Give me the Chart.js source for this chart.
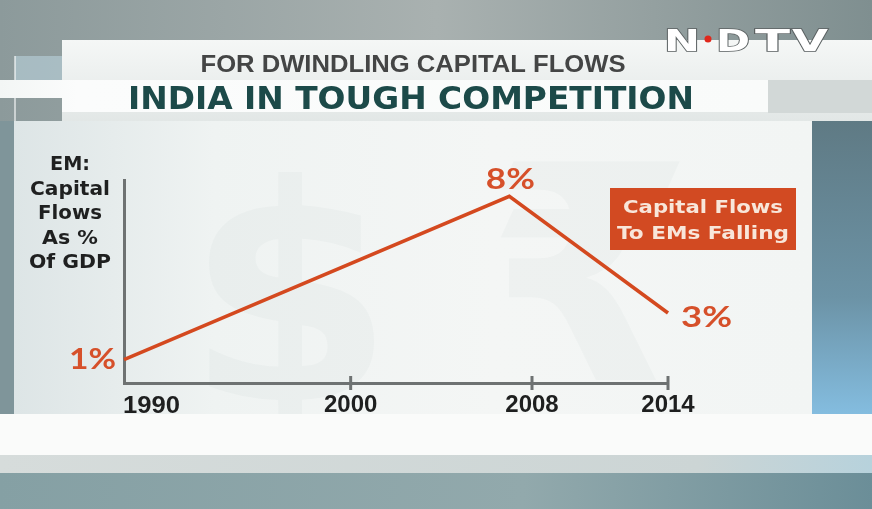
<!DOCTYPE html>
<html>
<head>
<meta charset="utf-8">
<script src="https://cdn.jsdelivr.net/npm/chart.js@4.4.1/dist/chart.umd.min.js"></script>
<style>
  html, body { margin: 0; padding: 0; background: #97a3a3; }
  #wrap { width: 872px; height: 509px; }
</style>
</head>
<body>
<div id="wrap"><canvas id="chart" width="872" height="509"></canvas></div>
<script>
// chart data
const years = [1990, 2007, 2014];
const flows = [1, 8, 3];
const yearTicks = [1990, 2000, 2008, 2014];
const pctLabels = ['1%', '8%', '3%'];

// texts
const yTitle = ['EM:', 'Capital', 'Flows', 'As %', 'Of GDP'];
const titleTop = 'FOR DWINDLING CAPITAL FLOWS';
const titleMain = 'INDIA IN TOUGH COMPETITION';
const noteLines = ['Capital Flows', 'To EMs Falling'];

const ORANGE = '#d4491f';
const LABEL_ORANGE = '#d6502a';
const AXIS = '#6e7272';

// draw text squeezed / stretched to a given width
function fitText(ctx, txt, x, y, w, align) {
  const m = ctx.measureText(txt).width;
  ctx.save();
  ctx.translate(x, y);
  ctx.scale(w / m, 1);
  ctx.textAlign = align || 'center';
  ctx.fillText(txt, 0, 0);
  ctx.restore();
}

// tv style background panels
const backdrop = {
  id: 'backdrop',
  beforeDraw(chart) {
    const ctx = chart.ctx;
    ctx.save();
    let g = ctx.createLinearGradient(0, 0, 872, 0);
    g.addColorStop(0, '#8c9a9b');
    g.addColorStop(0.5, '#a9b1b0');
    g.addColorStop(1, '#7f8f90');
    ctx.fillStyle = g;
    ctx.fillRect(0, 0, 872, 509);

    // small light box on the left
    ctx.fillStyle = 'rgba(190,215,225,0.55)';
    ctx.fillRect(15, 56, 47, 24);
    ctx.fillStyle = 'rgba(255,255,255,0.55)';
    ctx.fillRect(14, 56, 2, 66);

    // title panel
    g = ctx.createLinearGradient(0, 40, 0, 121);
    g.addColorStop(0, '#f5f7f6');
    g.addColorStop(1, '#e2e7e6');
    ctx.fillStyle = g;
    ctx.fillRect(62, 40, 810, 81);

    // bright band behind the main title
    g = ctx.createLinearGradient(0, 0, 768, 0);
    g.addColorStop(0, '#f3f6f5');
    g.addColorStop(0.1, '#fbfcfc');
    g.addColorStop(1, '#f9fbfa');
    ctx.fillStyle = g;
    ctx.fillRect(0, 80, 768, 18);
    ctx.fillRect(62, 80, 706, 32);
    ctx.fillStyle = '#d2d8d7';
    ctx.fillRect(768, 80, 104, 33);

    // chart panel
    g = ctx.createLinearGradient(14, 0, 812, 0);
    g.addColorStop(0, '#dde5e6');
    g.addColorStop(0.25, '#eff3f2');
    g.addColorStop(0.6, '#f4f6f5');
    g.addColorStop(1, '#f2f5f4');
    ctx.fillStyle = g;
    ctx.fillRect(14, 121, 798, 294);

    // faint currency watermark
    ctx.fillStyle = 'rgba(90,100,100,0.035)';
    ctx.font = 'bold 300px "DejaVu Sans"';
    ctx.textAlign = 'center';
    ctx.fillText('$', 290, 400);
    ctx.fillText('\u20B9', 590, 380);

    // left strip
    ctx.fillStyle = '#7f959a';
    ctx.fillRect(0, 121, 14, 294);

    // right strip
    g = ctx.createLinearGradient(0, 121, 0, 415);
    g.addColorStop(0, '#5f7a84');
    g.addColorStop(0.6, '#6c93a6');
    g.addColorStop(1, '#84bde0');
    ctx.fillStyle = g;
    ctx.fillRect(812, 121, 60, 294);

    // bottom bands
    ctx.fillStyle = '#fafbfa';
    ctx.fillRect(0, 414, 872, 41);
    g = ctx.createLinearGradient(0, 0, 872, 0);
    g.addColorStop(0, '#d6dcdb');
    g.addColorStop(0.8, '#ccd5d5');
    g.addColorStop(1, '#b7d2dc');
    ctx.fillStyle = g;
    ctx.fillRect(0, 455, 872, 18);
    g = ctx.createLinearGradient(0, 473, 872, 509);
    g.addColorStop(0, '#85a0a4');
    g.addColorStop(0.6, '#92a9ac');
    g.addColorStop(1, '#6b8e98');
    ctx.fillStyle = g;
    ctx.fillRect(0, 473, 872, 36);
    ctx.restore();
  }
};

// titles, axis title, value labels, note box, logo
const overlay = {
  id: 'overlay',
  afterDatasetsDraw(chart) {
    const ctx = chart.ctx;
    const xs = chart.scales.x;
    const area = chart.chartArea;
    ctx.save();

    // x tick marks crossing the axis
    ctx.strokeStyle = AXIS;
    ctx.lineWidth = 3;
    yearTicks.slice(1).forEach(v => {
      const px = xs.getPixelForValue(v);
      ctx.beginPath();
      ctx.moveTo(px, area.bottom - 7);
      ctx.lineTo(px, area.bottom + 7);
      ctx.stroke();
    });

    // first year label sits right of the axis
    ctx.fillStyle = '#1e1f1f';
    ctx.font = 'bold 24px "Liberation Sans"';
    ctx.textBaseline = 'alphabetic';
    fitText(ctx, String(yearTicks[0]), xs.getPixelForValue(yearTicks[0]) - 1, 413, 57, 'left');

    // titles
    ctx.fillStyle = '#444545';
    ctx.font = 'bold 24px "Liberation Sans Narrow", "Liberation Sans"';
    fitText(ctx, titleTop, 413, 72, 425);
    ctx.fillStyle = '#1c4a49';
    ctx.font = 'bold 32px "DejaVu Sans"';
    fitText(ctx, titleMain, 411, 109, 566);

    // y axis title
    ctx.fillStyle = '#1f2020';
    ctx.font = 'bold 20px "DejaVu Sans"';
    const yw = [40, 80, 64, 56, 82];
    yTitle.forEach((t, i) => fitText(ctx, t, 70, 170 + i * 24.5, yw[i]));

    // value labels next to the points
    const pts = chart.getDatasetMeta(0).data;
    ctx.fillStyle = LABEL_ORANGE;
    ctx.font = 'bold 28px Lato';
    fitText(ctx, pctLabels[0], pts[0].x - 8, pts[0].y + 9, 47, 'right');
    fitText(ctx, pctLabels[1], pts[1].x + 1, pts[1].y - 7, 49);
    fitText(ctx, pctLabels[2], pts[2].x + 13, pts[2].y + 14, 51, 'left');

    // note box
    ctx.fillStyle = '#d24a22';
    ctx.fillRect(610, 188, 186, 62);
    ctx.fillStyle = '#f8e6da';
    ctx.font = 'bold 18px "DejaVu Sans"';
    fitText(ctx, noteLines[0], 703, 213, 160);
    fitText(ctx, noteLines[1], 703, 239, 172);

    // channel logo
    ctx.font = 'bold 31px "DejaVu Sans"';
    const lg = ctx.createLinearGradient(0, 26, 0, 52);
    lg.addColorStop(0, '#ffffff');
    lg.addColorStop(1, '#c4cbcb');
    ctx.fillStyle = lg;
    ctx.strokeStyle = '#5a6061';
    ctx.lineWidth = 1.5;
    [['N', 664, 36], ['D', 716, 34], ['T', 755, 35], ['V', 792, 36]].forEach(([c, x, w]) => {
      const m = ctx.measureText(c).width;
      ctx.save();
      ctx.translate(x, 51);
      ctx.scale(w / m, 1);
      ctx.textAlign = 'left';
      ctx.strokeText(c, 0, 0);
      ctx.fillText(c, 0, 0);
      ctx.restore();
    });
    ctx.fillStyle = '#e0281c';
    ctx.beginPath();
    ctx.arc(708, 39, 3.5, 0, Math.PI * 2);
    ctx.fill();
    ctx.restore();
  }
};

new Chart(document.getElementById('chart'), {
  type: 'line',
  data: {
    datasets: [{
      data: years.map((y, i) => ({ x: y, y: flows[i] })),
      borderColor: ORANGE,
      borderWidth: 3.5,
      pointRadius: 0,
      tension: 0,
      fill: false,
      clip: false,
      borderJoinStyle: 'miter'
    }]
  },
  options: {
    responsive: false,
    animation: false,
    devicePixelRatio: 1,
    layout: { padding: { left: 124, right: 204, top: 180, bottom: 86 } },
    plugins: {
      legend: { display: false },
      tooltip: { enabled: false },
      title: { display: false }
    },
    scales: {
      x: {
        type: 'linear',
        min: 1990,
        max: 2014,
        afterBuildTicks: s => { s.ticks = yearTicks.map(v => ({ value: v })); },
        afterFit: s => { s.height = 40; },
        grid: { display: false, drawTicks: false },
        border: { display: true, color: AXIS, width: 3 },
        ticks: {
          padding: 8,
          color: '#1e1f1f',
          autoSkip: false,
          maxRotation: 0,
          font: { family: 'Liberation Sans', size: 24, weight: 'bold' },
          callback: v => (v === yearTicks[0] ? '' : String(v))
        }
      },
      y: {
        min: 0,
        max: 8.7,
        afterFit: s => { s.width = 0; },
        grid: { display: false, drawTicks: false },
        border: { display: true, color: AXIS, width: 3 },
        ticks: { display: false }
      }
    }
  },
  plugins: [backdrop, overlay]
});
</script>
</body>
</html>
